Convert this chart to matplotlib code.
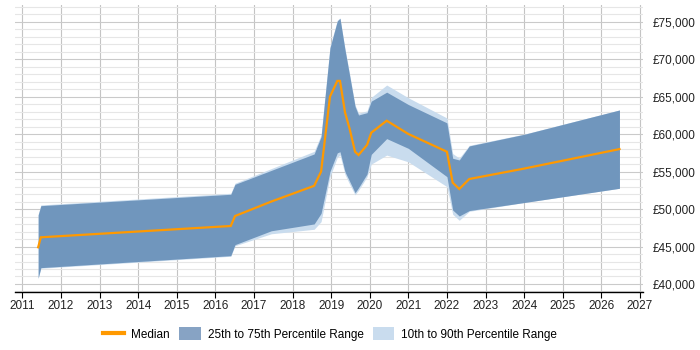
import matplotlib
matplotlib.use("Agg")
import matplotlib.pyplot as plt
from matplotlib.lines import Line2D
from matplotlib.patches import Patch
from matplotlib.ticker import MultipleLocator, FuncFormatter

# ---- data ----
dates = [2011.41, 2011.48, 2016.40, 2016.51, 2017.45, 2018.56, 2018.74, 2018.97,
         2019.16, 2019.23, 2019.36, 2019.48, 2019.62, 2019.71, 2019.93, 2020.04,
         2020.44, 2021.00, 2022.00, 2022.15, 2022.32, 2022.58, 2024.00, 2026.47]
median = [44900, 46230, 47740, 49070, 51000, 53100, 55000, 65000,
          67100, 67100, 62900, 60700, 57650, 57210, 58550, 60190,
          61790, 60020, 57650, 53520, 52680, 54010, 55400, 58000]
p25 = [40800, 42180, 43780, 45250, 47100, 48010, 49430, 55000,
       57500, 57650, 54970, 53700, 52180, 52840, 54680, 57300,
       59400, 58100, 54320, 49870, 49070, 49800, 50870, 52770]
p75 = [49210, 50450, 51970, 53300, 55160, 57350, 59660, 71500,
       75100, 75450, 71230, 67800, 63700, 62550, 62860, 64400,
       65600, 63950, 61500, 56770, 56550, 58420, 59970, 63220]
p10 = [40700, 42100, 43700, 45100, 46700, 47300, 48320, 54300,
       56900, 57200, 54600, 53300, 51900, 52500, 54300, 56000,
       57200, 56300, 52990, 49300, 48500, 49700, 50870, 52770]
p90 = [49300, 50550, 52100, 53450, 55400, 57700, 59900, 71700,
       75200, 75500, 71400, 68000, 63900, 62800, 63100, 64900,
       66550, 64850, 62150, 57400, 56800, 58500, 60000, 63220]
year_ticks = list(range(2011, 2028))
y_ticks = [40000, 45000, 50000, 55000, 60000, 65000, 70000, 75000]

# ---- styling ----
C_DARK = "#7096bd"
C_LIGHT = "#c9dcee"
C_MED = "#ff9900"
plt.rcParams["font.family"] = ["Liberation Sans", "DejaVu Sans"]

fig = plt.figure(figsize=(7, 3.5), dpi=100)
ax = fig.add_axes([15 / 700, 1 - 292 / 350, (643 - 15) / 700, (292 - 5) / 350])

ax.fill_between(dates, p10, p90, color=C_LIGHT, lw=0, zorder=2)
ax.fill_between(dates, p25, p75, color=C_DARK, lw=0, zorder=3)
ax.plot(dates, median, color=C_MED, lw=1.6, zorder=4, solid_joinstyle="miter")

ax.set_xlim(2010.81, 2027.08)
ax.set_ylim(38930, 77230)

ax.set_xticks(year_ticks)
ax.set_xticklabels([str(y) for y in year_ticks])
ax.set_yticks(y_ticks)
ax.yaxis.set_minor_locator(MultipleLocator(1000))
ax.yaxis.set_major_formatter(FuncFormatter(lambda v, p: "£{:,.0f}".format(v)))
ax.yaxis.tick_right()

ax.grid(axis="x", which="major", color="#c4c4c4", lw=0.8, zorder=0)
ax.grid(axis="y", which="major", color="#cacaca", lw=0.8, zorder=0)
ax.grid(axis="y", which="minor", color="#e6e6e6", lw=0.8, zorder=0)

for s in ["top", "right", "left"]:
    ax.spines[s].set_visible(False)
ax.spines["bottom"].set_color("#000000")
ax.spines["bottom"].set_linewidth(1.0)

ax.tick_params(axis="x", which="major", length=4, width=0.8, color="#000000",
               labelsize=8.5, labelcolor="#222222", pad=2)
ax.tick_params(axis="y", which="both", length=0, labelsize=8.5,
               labelcolor="#222222", pad=7)

handles = [Line2D([0], [0], color=C_MED, lw=3),
           Patch(facecolor="#87a3c4", edgecolor="none"),
           Patch(facecolor=C_LIGHT, edgecolor="none")]
labels = ["Median", "25th to 75th Percentile Range", "10th to 90th Percentile Range"]
fig.legend(handles, labels, loc="center", bbox_to_anchor=(330 / 700, 1 - 334 / 350),
           ncol=3, frameon=False, fontsize=8.5, handlelength=1.8, handleheight=1.2,
           columnspacing=0.8, handletextpad=0.6)

fig.savefig("out.png", dpi=100)
